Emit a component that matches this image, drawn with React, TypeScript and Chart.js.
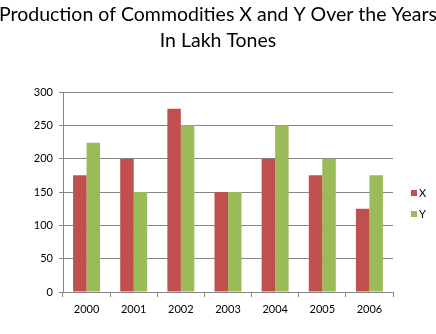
import React, { useEffect, useRef } from "react";
import { Chart, registerables } from "chart.js";

Chart.register(...registerables);

const categories = ["2000", "2001", "2002", "2003", "2004", "2005", "2006"];
const seriesX = [175, 200, 275, 150, 200, 175, 125];
const seriesY = [224, 150, 250, 150, 250, 200, 175];
const titleLines = ["Production of Commodities X and Y Over the Years", "In Lakh Tones"];
const seriesNames = ["X", "Y"];
const colors = ["#C0504D", "#9BBB59"];

const FONT = "Lato, 'Liberation Sans', sans-serif";

const titlePlugin = {
  id: "centerTitle",
  afterDraw(chart: any) {
    const { ctx, width } = chart;
    ctx.save();
    ctx.font = `19.5px ${FONT}`;
    ctx.fillStyle = "#000";
    ctx.textAlign = "center";
    ctx.textBaseline = "middle";
    titleLines.forEach((t, i) => ctx.fillText(t, width / 2, 15 + i * 26));
    ctx.restore();
  },
};

const legendPlugin = {
  id: "sideLegend",
  afterDraw(chart: any) {
    const { ctx, chartArea } = chart;
    ctx.save();
    const x0 = chartArea.right + 18;
    const yc = (chartArea.top + chartArea.bottom) / 2;
    const ys = [yc + 1, yc + 22];
    ctx.font = `11px ${FONT}`;
    ctx.textBaseline = "middle";
    ctx.textAlign = "left";
    seriesNames.forEach((n, i) => {
      ctx.fillStyle = colors[i];
      ctx.fillRect(x0, ys[i] - 3, 6, 6);
      ctx.fillStyle = "#000";
      ctx.fillText(n, x0 + 8, ys[i]);
    });
    ctx.restore();
  },
};

export default function App() {
  const ref = useRef<HTMLCanvasElement>(null);
  useEffect(() => {
    document.body.style.margin = "0";
    const chart = new Chart(ref.current!, {
      type: "bar",
      data: {
        labels: categories,
        datasets: [
          { label: seriesNames[0], data: seriesX, backgroundColor: colors[0], categoryPercentage: 0.572, barPercentage: 1 },
          { label: seriesNames[1], data: seriesY, backgroundColor: colors[1], categoryPercentage: 0.572, barPercentage: 1 },
        ],
      },
      options: {
        responsive: false,
        animation: false,
        layout: { padding: { top: 92, right: 43, bottom: 0, left: 0 } },
        plugins: {
          legend: { display: false },
          tooltip: { enabled: false },
          title: { display: false },
        },
        scales: {
          x: {
            grid: { display: true, drawOnChartArea: false, offset: true, tickLength: 5, color: "#868686" },
            border: { color: "#868686" },
            ticks: { color: "#000", font: { family: FONT, size: 11 }, padding: 6 },
            afterFit: (s: any) => { s.height = 42; },
          },
          y: {
            min: 0,
            max: 300,
            ticks: { stepSize: 50, color: "#000", font: { family: FONT, size: 11 }, padding: 6 },
            grid: { color: "#868686", tickLength: 4 },
            border: { color: "#868686" },
            afterFit: (s: any) => { s.width = 63; },
          },
        },
      },
      plugins: [titlePlugin, legendPlugin],
    });
    return () => chart.destroy();
  }, []);
  return (
    <div style={{ width: 436, height: 334, background: "#fff" }}>
      <canvas ref={ref} width={436} height={334} />
    </div>
  );
}
